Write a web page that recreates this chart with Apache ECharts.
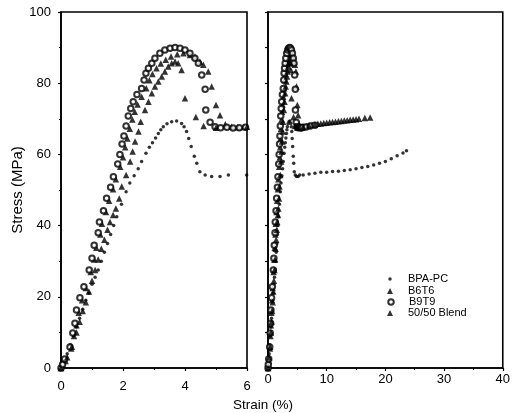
<!DOCTYPE html>
<html>
<head>
<meta charset="utf-8">
<script src="https://cdn.jsdelivr.net/npm/echarts@6/dist/echarts.min.js"></script>
<style>html,body{margin:0;padding:0;background:#fff}#c{width:513px;height:413px}</style>
</head>
<body>
<div id="c"></div>
<script>
// ---- data (strain %, stress MPa) ----
const seriesNames = ['BPA-PC', 'B6T6', 'B9T9', '50/50 Blend'];

const bpaStrain = [0,0.1,0.2,0.3,0.4,0.5,0.6,0.7,0.8,0.9,1.0,1.1,1.2,1.3,1.4,1.5,1.6,1.7,1.8,1.95,2.1,2.22,2.36,2.49,2.6,2.74,2.85,2.95,3.05,3.14,3.22,3.3,3.42,3.57,3.73,3.89,3.97,4.05,4.12,4.2,4.3,4.38,4.48,4.65,4.86,5.13,5.4,5.99,7,8,9,10,11,12,13,14,15,16,17,18,19,20,21,22,23,23.6];
const bpaStress = [0,2,4,6.5,9,11.5,14,16.5,19,21,23.5,25.5,27.5,30,32.5,35,37.5,40,42.5,46,49.5,52,54,56,58,60.3,62,63.3,64.6,65.9,66.9,67.8,68.6,69.2,69.4,68.7,67.8,66.4,64.5,62.2,59.5,57.5,55.1,54.2,53.8,53.8,54.2,54.2,54.5,54.7,55,55,55.2,55.3,55.5,55.7,56,56.3,56.6,57,57.5,58,58.8,59.6,60.4,61];

const b6Strain = [0,0.15,0.33,0.42,0.5,0.57,0.68,0.8,0.96,1.07,1.14,1.27,1.32,1.45,1.55,1.68,1.77,1.91,2.0,2.07,2.14,2.22,2.3,2.38,2.47,2.6,2.75,2.85,2.95,3.08,3.22,3.38,3.55,3.75,3.95,4.16,4.32,4.48,4.59,4.75,4.86,5.0,5.13,5.3,5.5,5.7,5.9,6.5,7.5,8.5,9.5,10.5,11.5,12.5,13.5,14.5,15.5,16.5,17.4];
const b6Stress = [0,2,5.5,9,12,15.5,19,22.5,27,30.5,33.8,37.5,40.5,43.8,47,50.2,53,56.5,59.2,62,64.5,67.2,69.8,72,74,76.2,78.6,80.8,82.6,84.2,85.5,86.6,87.5,88.1,88.4,87.9,87.5,86.1,85.2,83.3,79.1,73.9,71,68.5,67.8,67.6,67.7,68,68.3,68.6,68.8,69,69.2,69.4,69.6,69.8,70,70.2,70.4];

const b9Strain = [0,0.05,0.12,0.29,0.38,0.45,0.5,0.61,0.74,0.91,1.0,1.07,1.2,1.24,1.37,1.47,1.6,1.69,1.83,1.9,1.97,2.03,2.1,2.17,2.25,2.33,2.45,2.6,2.68,2.74,2.82,2.93,3.03,3.19,3.35,3.52,3.68,3.84,4.0,4.16,4.32,4.43,4.54,4.65,4.67,4.81,4.97,5.15,5.35,5.55,5.75,5.95,6.5,7.2,8.0];
const b9Stress = [0,1,2.5,5.9,9.8,12.6,16.3,19.7,22.8,27.5,30.8,34.5,38,41,44.2,47.7,50.8,53.7,57.3,60,62.9,65.2,68,70.8,72.9,74.8,76.8,78.5,80.9,82.8,84.2,85.6,87,88.4,89.3,89.8,90,89.8,89.3,88.4,87,85.6,82.3,78.3,72.5,69,67.8,67.5,67.6,67.4,67.5,67.6,67.7,68,68.2];

const blendStrain = [0,0.2,0.35,0.5,0.6,0.7,0.8,0.9,1.0,1.1,1.2,1.3,1.4,1.5,1.58,1.68,1.77,1.88,1.96,2.1,2.23,2.31,2.39,2.5,2.57,2.71,2.82,2.93,3.03,3.14,3.25,3.35,3.46,3.57,3.68,3.78,3.89,4.0,4.35,4.6,5.0,6.0,7.0,8.0,9.0,10.0,11.0,12.0,13.0,14.0,15.0];
const blendStress = [0,3,6,10,13,16,18.5,21.5,24.5,27.5,30.5,33.5,36,38.8,41,43,44.8,47.6,51,54.2,58,60.8,63.6,66.4,69.2,72.5,74.8,77.2,79.1,80.5,81.9,83.3,84.7,85.6,86.1,85.6,83.7,75.8,70.5,68,67.5,67.8,68.1,68.4,68.7,68.9,69.1,69.3,69.5,69.7,69.9];

const leftXTicks = [0, 2, 4, 6];
const rightXTicks = [0, 10, 20, 30, 40];
const yTicks = [0, 20, 40, 60, 80, 100];

// ---- build ----
function zip(xs, ys) { return xs.map((x, i) => [x, ys[i]]); }
const sets = [
  { name: seriesNames[0], data: zip(bpaStrain, bpaStress), symbol: 'circle', size: 3.5 },
  { name: seriesNames[1], data: zip(b6Strain, b6Stress), symbol: 'triangle', size: 6.5 },
  { name: seriesNames[2], data: zip(b9Strain, b9Stress), symbol: 'emptyCircle', size: 5.5 },
  { name: seriesNames[3], data: zip(blendStrain, blendStress), symbol: 'triangle', size: 6.5 }
];

const series = [];
[0, 1].forEach(function (g) {
  sets.forEach(function (s) {
    series.push({
      type: 'scatter', name: s.name, xAxisIndex: g, yAxisIndex: g,
      data: s.data, symbol: s.symbol, symbolSize: s.size, clip: true,
      symbolKeepAspect: true,
      itemStyle: s.symbol === 'emptyCircle'
        ? { color: '#000', borderColor: '#000', borderWidth: 1 }
        : { color: '#000' },
      emphasis: { disabled: true }
    });
  });
});

const FONT = 'Liberation Sans';
const axisBase = {
  axisLine: { show: true, lineStyle: { color: '#000', width: 1.6 } },
  axisTick: { show: true, inside: false, length: 3, lineStyle: { color: '#000', width: 1.2 } },
  minorTick: { show: true, splitNumber: 2, length: 2, lineStyle: { color: '#000', width: 1 } },
  splitLine: { show: false },
  axisLabel: { color: '#000', fontSize: 13, fontFamily: FONT }
};
function ax(extra) { return Object.assign(JSON.parse(JSON.stringify(axisBase)), extra); }

const legendRows = [279, 291, 302, 313];
const legendIcons = ['circle', 'triangle', 'emptyCircle', 'triangle'];
const legendSizes = [3.5, 6, 5.5, 6];
const legends = seriesNames.map(function (n, i) {
  const s = legendSizes[i];
  return {
    data: [{ name: n, icon: legendIcons[i] }],
    left: 390 - s / 2, top: legendRows[i] - 7, orient: 'vertical',
    itemWidth: s, itemHeight: s, symbolKeepAspect: true,
    itemStyle: { color: '#000', borderWidth: legendIcons[i] === 'emptyCircle' ? 1 : 0, borderColor: '#000' },
    textStyle: { color: '#000', fontSize: 11, fontFamily: FONT, lineHeight: 14, padding: [0, 0, 0, 13 - s / 2] },
    selectedMode: false, padding: 0
  };
});

const option = {
  animation: false,
  backgroundColor: '#fff',
  title: {
    text: 'Strain (%)', left: 233, top: 398, padding: 0,
    textStyle: { color: '#000', fontSize: 13.5, fontWeight: 'normal', fontFamily: FONT }
  },
  legend: legends,
  grid: [
    { left: 61, right: 266, top: 12, bottom: 45, show: true, borderColor: '#000', borderWidth: 1.6, backgroundColor: 'transparent' },
    { left: 268, right: 10, top: 12, bottom: 45, show: true, borderColor: '#000', borderWidth: 1.6, backgroundColor: 'transparent' }
  ],
  xAxis: [
    ax({ type: 'value', gridIndex: 0, min: leftXTicks[0], max: leftXTicks[leftXTicks.length - 1], interval: 2,
         axisLabel: Object.assign({}, axisBase.axisLabel, { margin: 12 }) }),
    ax({ type: 'value', gridIndex: 1, min: rightXTicks[0], max: rightXTicks[rightXTicks.length - 1], interval: 10,
         axisLabel: Object.assign({}, axisBase.axisLabel, { margin: 5 }) })
  ],
  yAxis: [
    ax({ type: 'value', gridIndex: 0, min: yTicks[0], max: yTicks[yTicks.length - 1], interval: 20,
         name: 'Stress (MPa)', nameLocation: 'middle', nameGap: 33,
         nameTextStyle: { color: '#000', fontSize: 15, fontFamily: FONT },
         axisLabel: Object.assign({}, axisBase.axisLabel, { margin: 10 }) }),
    ax({ type: 'value', gridIndex: 1, min: yTicks[0], max: yTicks[yTicks.length - 1], interval: 10,
         axisLabel: { show: false }, minorTick: { show: false } })
  ],
  series: series
};

const chart = echarts.init(document.getElementById('c'), null, { renderer: 'canvas' });
chart.setOption(option);
</script>
</body>
</html>
